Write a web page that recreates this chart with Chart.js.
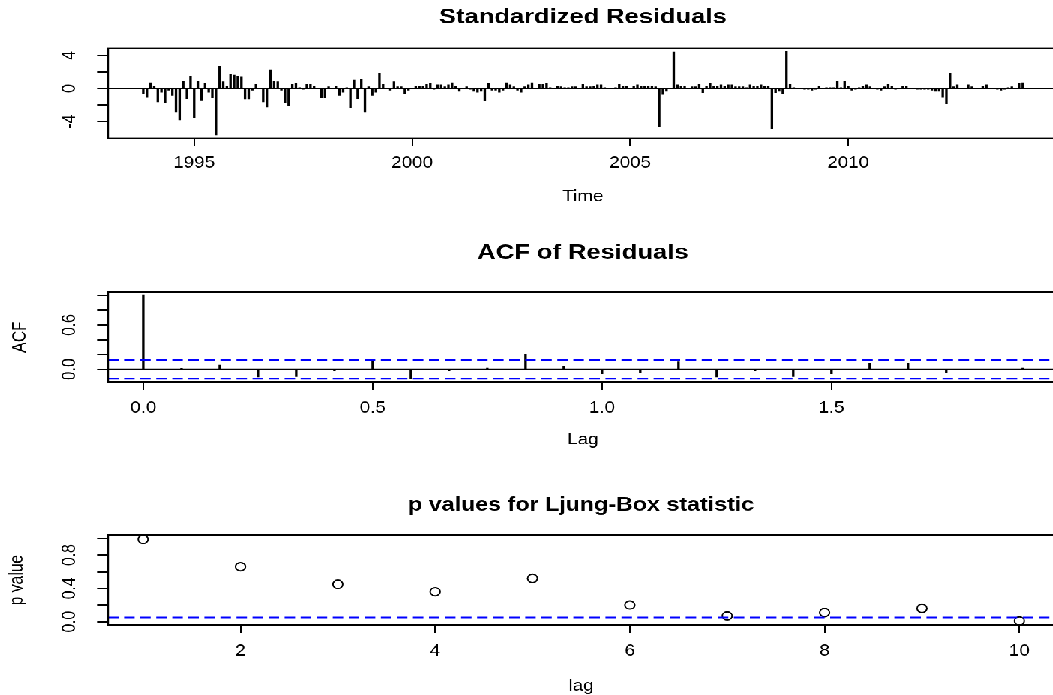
<!DOCTYPE html>
<html><head><meta charset="utf-8">
<script src="https://cdn.jsdelivr.net/npm/chart.js@4/dist/chart.umd.min.js"></script>
<style>
html,body{margin:0;padding:0;background:#fff;overflow:hidden;width:1053px;height:695px}
#wrap{position:absolute;left:0;top:0;width:708px;height:556px;transform-origin:0 0;transform:scale(1.5,1.25)}
#wrap canvas{position:absolute;left:0}
</style></head><body><div id="wrap"></div>
<script>
// ---------- data ----------
const residStart = 1993 + 10/12;   // first month of the series
const residFreq = 12;
const residuals = [
 -0.6,-1.0,0.7,0.3,-1.6,-0.4,-1.7,-0.2,-0.8,-2.8,-3.8,0.9,
 -1.2,1.5,-3.5,0.9,-1.4,0.6,-0.4,-1.1,-5.6,2.7,0.8,0.3,
 1.7,1.6,1.5,1.4,-1.3,-1.3,-0.2,0.5,0.0,-1.6,-2.2,2.2,
 0.9,0.8,-0.2,-1.7,-2.1,0.5,0.6,0.1,-0.1,0.5,0.5,0.3,
 0.0,-1.1,-1.1,0.2,0.0,0.3,-0.8,-0.4,0.1,-2.3,1.0,-1.2,
 1.1,-2.8,0.2,-0.8,-0.4,1.8,0.5,0.0,-0.2,0.8,0.2,0.2,
 -0.6,-0.2,0.0,0.3,0.3,0.3,0.5,0.6,-0.1,0.4,0.4,0.2,
 0.4,0.7,0.3,-0.3,0.0,0.2,-0.1,-0.3,-0.4,-0.3,-1.5,0.6,
 -0.2,-0.2,-0.4,-0.2,0.7,0.4,0.2,-0.2,-0.4,0.2,0.4,0.7,
 0.0,0.5,0.5,0.6,0.1,0.0,0.3,0.2,0.1,0.1,0.2,0.2,
 0.0,0.5,0.2,0.2,0.3,0.4,0.4,0.1,0.0,0.0,0.1,0.5,
 0.3,0.3,0.0,0.3,0.4,0.3,0.3,0.3,0.3,0.2,-4.6,-0.7,
 -0.3,0.0,4.4,0.4,0.3,0.3,0.0,0.2,0.2,0.5,-0.5,0.3,
 0.6,0.3,0.3,0.4,0.3,0.4,0.4,0.2,0.2,0.2,0.1,0.4,
 0.3,0.3,0.4,0.3,0.3,-4.9,-0.5,-0.3,-0.6,4.5,0.5,0.1,
 0.0,0.0,-0.1,-0.1,-0.2,-0.1,0.3,0.0,0.1,0.1,0.1,0.9,
 0.1,0.9,0.3,-0.2,-0.1,0.1,0.3,0.4,0.2,0.0,-0.1,-0.2,
 0.2,0.5,0.3,-0.1,0.0,0.3,0.3,0.0,0.0,-0.1,-0.1,-0.1,
 -0.1,-0.2,-0.3,-0.3,-1.0,-1.8,1.8,0.2,0.4,0.0,0.0,0.4,
 0.2,0.0,0.0,0.3,0.4,0.0,0.0,-0.1,-0.2,-0.1,0.1,0.2,
 0.0,0.6,0.7
];
const timeTicks = [1995, 2000, 2005, 2010];
const timeTickLabels = ['1995', '2000', '2005', '2010'];
const residYTicks = [-4, -2, 0, 2, 4];
const residYLabels = ['-4', '', '0', '', '4'];

const acfLagMonths = [0,1,2,3,4,5,6,7,8,9,10,11,12,13,14,15,16,17,18,19,20,21,22,23];
const acfValues = [1.0,0.01,0.054,-0.10,-0.095,-0.02,0.122,-0.127,-0.02,0.02,0.20,0.04,
                   -0.06,-0.045,0.10,-0.10,-0.02,-0.095,-0.063,0.077,0.077,-0.045,0.0,0.02];
const acfConfLimit = 0.126;
const acfXTicks = [0, 0.5, 1.0, 1.5];
const acfXLabels = ['0.0', '0.5', '1.0', '1.5'];
const acfYTicks = [0, 0.2, 0.4, 0.6, 0.8, 1.0];
const acfYLabels = ['0.0', '', '', '0.6', '', ''];

const lbLags = [1,2,3,4,5,6,7,8,9,10];
const lbPValues = [0.99,0.66,0.45,0.36,0.52,0.20,0.07,0.11,0.16,0.01];
const lbThreshold = 0.05;
const lbXTicks = [2, 4, 6, 8, 10];
const lbXLabels = ['2', '4', '6', '8', '10'];
const lbYTicks = [0, 0.2, 0.4, 0.6, 0.8, 1.0];
const lbYLabels = ['0.0', '', '0.4', '', '0.8', ''];

// ---------- layout (final pixel space) ----------
const SX = 1.5, SY = 1.25;
const W = 708;
const FAMILY = '"Liberation Sans", Arial, Helvetica, sans-serif';
const TICK_FONT = 12.5, LH = 1.2;
Chart.defaults.font.family = FAMILY;
Chart.defaults.color = '#000';

function ext(lo, hi) { const r = hi - lo; return [lo - 0.04 * r, hi + 0.04 * r]; }
function measure(t, size) {
  const c = document.createElement('canvas').getContext('2d');
  c.font = size + 'px ' + FAMILY; return c.measureText(t).width;
}

const rboxPlugin = {
  id: 'rbox',
  afterDatasetsDraw(chart, args, opts) {
    const ctx = chart.ctx, a = chart.chartArea, y = chart.scales.y;
    ctx.save();
    (opts.lines || []).forEach(l => {
      const py = y.getPixelForValue(l.value);
      ctx.beginPath();
      ctx.strokeStyle = l.color; ctx.lineWidth = l.width;
      ctx.setLineDash(l.dash || []);
      ctx.moveTo(a.left, py); ctx.lineTo(a.right, py); ctx.stroke();
    });
    ctx.setLineDash([]);
    ctx.strokeStyle = '#000'; ctx.lineWidth = 1.2;
    ctx.strokeRect(a.left, a.top, a.right - a.left, a.bottom - a.top);
    ctx.restore();
  }
};

const wrap = document.getElementById('wrap');

function makePanel(p) {
  const canvas = document.createElement('canvas');
  const h = p.height / SY;
  canvas.width = W; canvas.height = h;
  canvas.style.top = (p.top / SY) + 'px';
  wrap.appendChild(canvas);
  const boxTop = (p.boxTop - p.top) / SY, boxBottom = (p.boxBottom - p.top) / SY;
  const titleC = (p.titleY - p.top) / SY;
  const tlh = p.titleSize * LH, flh = TICK_FONT * LH;
  const xTickLen = 8 / SY, yTickLen = 11 / SX;
  const left = 108 / SX, right = 1058 / SX;
  const tickLabelC = (p.tickLabelY - p.top) / SY;
  const xTitleC = (p.xTitleY - p.top) / SY;
  const yLabelC = 70 / SX;
  const widest = Math.max(...p.yLabels.map(t => measure(t, TICK_FONT)));
  const tickFont = { size: TICK_FONT, family: FAMILY, lineHeight: LH };
  new Chart(canvas, {
    type: p.type,
    data: { datasets: p.datasets },
    plugins: [rboxPlugin],
    options: {
      responsive: false, animation: false, devicePixelRatio: 2,
      layout: { padding: { left: 0, right: W - right, top: 0, bottom: 0 } },
      plugins: {
        legend: { display: false }, tooltip: { enabled: false },
        title: {
          display: true, text: p.title, fullSize: false, color: '#000',
          font: { size: p.titleSize, weight: 'bold', family: FAMILY, lineHeight: LH },
          padding: { top: titleC - tlh / 2, bottom: boxTop - titleC - tlh / 2 }
        },
        rbox: { lines: p.lines }
      },
      scales: {
        x: {
          type: 'linear', min: p.xRange[0], max: p.xRange[1], offset: false,
          afterBuildTicks: s => { s.ticks = p.xTicks.map(v => ({ value: v })); },
          afterFit: s => { s.height = h - boxBottom; },
          ticks: { autoSkip: false, minRotation: 0, maxRotation: 0, color: '#000', font: tickFont,
                   padding: tickLabelC - boxBottom - xTickLen - flh / 2,
                   callback: (v, i) => p.xLabels[i] },
          grid: { offset: false, drawOnChartArea: false, drawTicks: true, tickLength: xTickLen, color: '#000', lineWidth: 1 },
          border: { display: false },
          title: { display: true, text: p.xTitle, color: '#000', font: tickFont,
                   padding: { top: 0, bottom: h - xTitleC - flh / 2 } }
        },
        y: {
          type: 'linear', min: p.yRange[0], max: p.yRange[1],
          afterBuildTicks: s => { s.ticks = p.yTicks.map(v => ({ value: v })); },
          afterFit: s => { s.width = left; },
          ticks: { autoSkip: false, minRotation: 90, maxRotation: 90, crossAlign: 'center', color: '#000', font: tickFont,
                   padding: left - yTickLen - yLabelC - widest / 2,
                   callback: (v, i) => p.yLabels[i] },
          grid: { offset: false, drawOnChartArea: false, drawTicks: true, tickLength: yTickLen, color: '#000', lineWidth: 1 },
          border: { display: false },
          title: { display: !!p.yTitle, text: p.yTitle || '', color: '#000', font: tickFont,
                   padding: { top: p.yTitleX / SX - flh / 2, bottom: 0 } }
        }
      }
    }
  });
}

// Panel 1: standardized residuals
const residTimes = residuals.map((v, i) => residStart + i / residFreq);
makePanel({
  type: 'bar', top: 0, height: 230, titleY: 17, boxTop: 48, boxBottom: 138, tickLabelY: 163, xTitleY: 197,
  title: 'Standardized Residuals', titleSize: 17, xTitle: 'Time',
  xRange: ext(residTimes[0], residTimes[residTimes.length - 1]),
  yRange: ext(Math.min(...residuals), Math.max(...residuals)),
  xTicks: timeTicks, xLabels: timeTickLabels, yTicks: residYTicks, yLabels: residYLabels,
  datasets: [{ data: residuals.map((v, i) => ({ x: residTimes[i], y: v })), backgroundColor: '#000',
               barThickness: 1.0, borderWidth: 0 }],
  lines: [{ value: 0, color: '#000', width: 1.2 }]
});

// Panel 2: ACF
const acfLags = acfLagMonths.map(k => k / residFreq);
makePanel({
  type: 'bar', top: 230, height: 235, titleY: 253, boxTop: 292, boxBottom: 382, tickLabelY: 408, xTitleY: 440, yTitleX: 20,
  title: 'ACF of Residuals', titleSize: 17, xTitle: 'Lag', yTitle: 'ACF',
  xRange: ext(acfLags[0], acfLags[acfLags.length - 1]),
  yRange: ext(Math.min(...acfValues, -acfConfLimit), Math.max(...acfValues, acfConfLimit)),
  xTicks: acfXTicks, xLabels: acfXLabels, yTicks: acfYTicks, yLabels: acfYLabels,
  datasets: [{ data: acfValues.map((v, i) => ({ x: acfLags[i], y: v })), backgroundColor: '#000',
               barThickness: 1.0, borderWidth: 0 }],
  lines: [{ value: 0, color: '#000', width: 1.2 },
          { value: acfConfLimit, color: '#0000ff', width: 1.5, dash: [7, 3.7] },
          { value: -acfConfLimit, color: '#0000ff', width: 1.5, dash: [7, 3.7] }]
});

// Panel 3: Ljung-Box p-values
makePanel({
  type: 'scatter', top: 465, height: 230, titleY: 505, boxTop: 535, boxBottom: 625, tickLabelY: 651, xTitleY: 686, yTitleX: 17,
  title: 'p values for Ljung-Box statistic', titleSize: 15.5, xTitle: 'lag', yTitle: 'p value',
  xRange: ext(lbLags[0], lbLags[lbLags.length - 1]),
  yRange: ext(0, 1),
  xTicks: lbXTicks, xLabels: lbXLabels, yTicks: lbYTicks, yLabels: lbYLabels,
  datasets: [{ data: lbPValues.map((v, i) => ({ x: lbLags[i], y: v })), pointRadius: 3.3,
               borderColor: '#000', borderWidth: 1, backgroundColor: 'rgba(0,0,0,0)', showLine: false }],
  lines: [{ value: lbThreshold, color: '#0000ff', width: 1.5, dash: [7, 3.7] }]
});
</script>
</body></html>
